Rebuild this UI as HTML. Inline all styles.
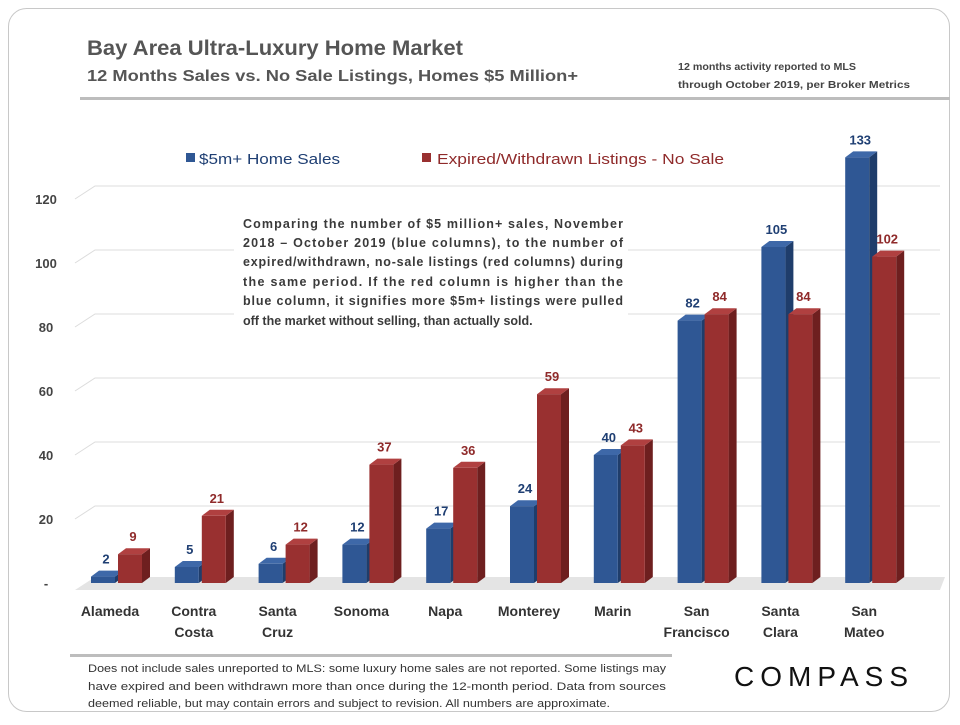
<!DOCTYPE html>
<html><head><meta charset="utf-8"><style>
body{margin:0;background:#fff;}
svg text{font-family:"Liberation Sans",sans-serif;font-weight:bold;}
</style></head><body>
<svg id="chart" width="960" height="720" viewBox="0 0 960 720" xmlns="http://www.w3.org/2000/svg">
<rect x="8.5" y="8.5" width="941" height="703" rx="18" fill="#fff" stroke="#c8c8c8" stroke-width="1"/>
<text x="87" y="55" font-size="21" fill="#555" textLength="376" lengthAdjust="spacingAndGlyphs">Bay Area Ultra-Luxury Home Market</text>
<text x="87" y="81" font-size="16" fill="#555" textLength="491" lengthAdjust="spacingAndGlyphs">12 Months  Sales vs. No Sale Listings, Homes $5 Million+</text>
<text x="678" y="70" font-size="10.5" fill="#444" textLength="178" lengthAdjust="spacingAndGlyphs">12 months activity  reported to MLS</text>
<text x="678" y="88" font-size="10.5" fill="#444" textLength="232" lengthAdjust="spacingAndGlyphs">through October 2019, per Broker Metrics</text>
<rect x="80" y="97" width="870" height="3" fill="#bdbdbd"/>
<g id="grid"></g>
<g id="bars"></g>
<g>
<rect x="186" y="153" width="9" height="9" fill="#2f5794"/>
<text x="199" y="164" font-size="15" fill="#1f3f73" style="font-weight:normal" textLength="141" lengthAdjust="spacingAndGlyphs">$5m+ Home Sales</text>
<rect x="422" y="153" width="9" height="9" fill="#993030"/>
<text x="437" y="164" font-size="15" fill="#8f2a2a" style="font-weight:normal" textLength="287" lengthAdjust="spacingAndGlyphs">Expired/Withdrawn Listings - No Sale</text>
</g>
<g>
<rect x="234" y="206" width="394" height="128" fill="#fff"/>
<g font-size="12.5" fill="#3a3a3a">
<text x="243" y="228" textLength="380" lengthAdjust="spacing">Comparing the number of $5 million+ sales, November</text>
<text x="243" y="247" textLength="380" lengthAdjust="spacing">2018 – October 2019 (blue columns), to the number of</text>
<text x="243" y="266" textLength="380" lengthAdjust="spacing">expired/withdrawn, no-sale listings (red columns) during</text>
<text x="243" y="286" textLength="380" lengthAdjust="spacing">the same period. If the red column is higher than the</text>
<text x="243" y="305" textLength="380" lengthAdjust="spacing">blue column, it signifies more $5m+ listings were pulled</text>
<text x="243" y="325">off the market without selling, than actually sold.</text>
</g></g>
<rect x="70" y="654" width="602" height="3" fill="#bdbdbd"/>
<g font-size="11" fill="#333">
<text x="88" y="672" style="font-weight:normal" textLength="578" lengthAdjust="spacingAndGlyphs">Does not include sales unreported to MLS: some luxury home sales are not reported. Some listings may</text>
<text x="88" y="690" style="font-weight:normal" textLength="578" lengthAdjust="spacingAndGlyphs">have expired and been withdrawn more than once during the 12-month period. Data from sources</text>
<text x="88" y="707" style="font-weight:normal" textLength="522" lengthAdjust="spacingAndGlyphs">deemed reliable, but may contain errors and subject to revision. All numbers are approximate.</text>
</g>
<text x="734" y="686" font-size="28" fill="#111" style="font-weight:normal" textLength="174" lengthAdjust="spacing">COMPASS</text>
</svg>
<script>
const categories=[["Alameda"],["Contra","Costa"],["Santa","Cruz"],["Sonoma"],["Napa"],["Monterey"],["Marin"],["San","Francisco"],["Santa","Clara"],["San","Mateo"]];
const sales=[2,5,6,12,17,24,40,82,105,133];
const expired=[9,21,12,37,36,59,43,84,84,102];
const ticks=[0,20,40,60,80,100,120];
const tickLabels=["-","20","40","60","80","100","120"];
const NS="http://www.w3.org/2000/svg";
const base=583, scale=3.2;
function yS(v){return base-v*scale;}
function xC(i){return 118+i*83.8;}
function mk(tag,attrs,parent,txt){const e=document.createElementNS(NS,tag);for(const k in attrs)e.setAttribute(k,attrs[k]);if(txt!==undefined)e.textContent=txt;parent.appendChild(e);return e;}
const grid=document.getElementById('grid');
ticks.forEach((t,i)=>{
  const y=yS(t);
  const g=mk('g',{},grid);
  
  
  if(t===0){
    mk('polygon',{points:`75,${y+7} 95,${y-6} 945,${y-6} 940,${y+7}`,fill:'#e4e4e4'},g);
  }else{
    mk('polyline',{points:`75,${y} 95,${y-13} 940,${y-13}`,fill:'none',stroke:'#dcdcdc','stroke-width':1},g);
  }
  const lab=mk('text',{x:46,y:y+5,'font-size':13,fill:'#444','text-anchor':'middle'},grid,tickLabels[i]);
  
  
});
const bars=document.getElementById('bars');
function bar(x,w,v,front,side,top,lc,name){
  const g=mk('g',{},bars);
  
  
  const y=yS(v),d=8,u=6;
  mk('polygon',{points:`${x+w},${y} ${x+w+d},${y-u} ${x+w+d},${base-u} ${x+w},${base}`,fill:side},g);
  mk('polygon',{points:`${x},${y} ${x+d},${y-u} ${x+w+d},${y-u} ${x+w},${y}`,fill:top},g);
  mk('rect',{x:x,y:y,width:w,height:base-y,fill:front},g);
  const t=mk('text',{x:x+w/2+3,y:y-13,'font-size':13,fill:lc,'text-anchor':'middle'},g,v);
  
  
}
categories.forEach((c,i)=>{
  const pc=xC(i);
  bar(pc-27,24,sales[i],'#2f5794','#1f3d6b','#3e68a8','#1f3f73','bar-sales-'+i);
  bar(pc,24,expired[i],'#993030','#6e1f1f','#b04040','#8f2a2a','bar-expired-'+i);
  c.forEach((line,j)=>{
    const t=mk('text',{x:pc-8,y:616+j*21,'font-size':14,fill:'#333','text-anchor':'middle'},bars,line);
    
    
  });
});
</script>
</body></html>
